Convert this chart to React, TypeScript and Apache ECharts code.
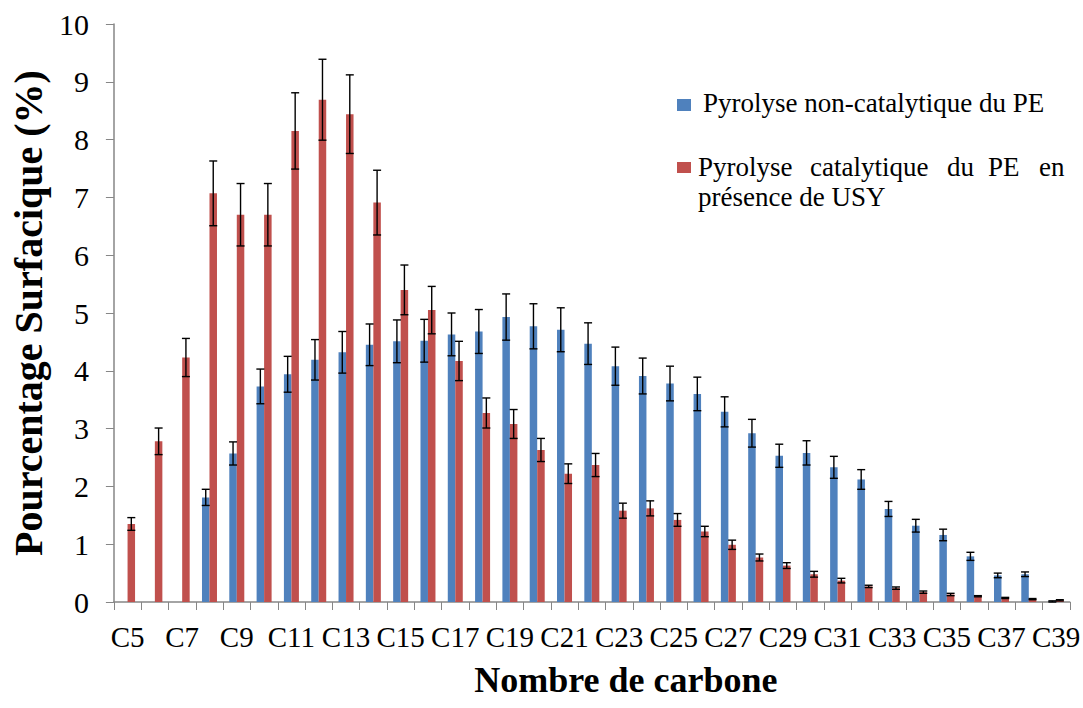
import React, { useEffect, useRef } from "react";
import * as echarts from "echarts";

const categories = [
  "C5", "C6", "C7", "C8", "C9", "C10", "C11", "C12", "C13", "C14", "C15", "C16",
  "C17", "C18", "C19", "C20", "C21", "C22", "C23", "C24", "C25", "C26", "C27", "C28",
  "C29", "C30", "C31", "C32", "C33", "C34", "C35", "C36", "C37", "C38", "C39",
];

const blueName = "Pyrolyse non-catalytique du PE";
const redName = "Pyrolyse catalytique du PE en présence de USY";

const blueValues = [
  null, null, null, 1.81, 2.57, 3.73, 3.94, 4.19, 4.32, 4.45, 4.51, 4.52,
  4.63, 4.68, 4.93, 4.77, 4.71, 4.47, 4.08, 3.91, 3.78, 3.6, 3.29, 2.92,
  2.53, 2.58, 2.33, 2.12, 1.61, 1.32, 1.16, 0.79, 0.46, 0.48, 0.01,
];
const blueErrors = [
  0, 0, 0, 0.14, 0.2, 0.3, 0.31, 0.35, 0.36, 0.36, 0.37, 0.37,
  0.37, 0.38, 0.4, 0.39, 0.38, 0.36, 0.33, 0.31, 0.3, 0.29, 0.26, 0.24,
  0.2, 0.21, 0.19, 0.17, 0.13, 0.11, 0.1, 0.07, 0.04, 0.04, 0.01,
];
const redValues = [
  1.35, 2.78, 4.23, 7.07, 6.7, 6.7, 8.15, 8.69, 8.44, 6.91, 5.4, 5.05,
  4.17, 3.27, 3.08, 2.63, 2.22, 2.37, 1.58, 1.62, 1.42, 1.22, 0.99, 0.77,
  0.63, 0.48, 0.37, 0.27, 0.24, 0.17, 0.13, 0.1, 0.07, 0.05, 0.03,
];
const redErrors = [
  0.11, 0.23, 0.33, 0.56, 0.54, 0.54, 0.66, 0.7, 0.68, 0.56, 0.43, 0.41,
  0.34, 0.26, 0.25, 0.2, 0.17, 0.2, 0.13, 0.13, 0.11, 0.09, 0.08, 0.06,
  0.05, 0.05, 0.04, 0.02, 0.02, 0.02, 0.02, 0.01, 0.01, 0.01, 0.01,
];
const yTicks = [0, 10, 1]; // min, max, interval

const FONT = "Liberation Serif";
const BLUE = "#4F81BD";
const RED = "#C0504D";
const BAR_W = 7.5;

function errorData(values: (number | null)[], errs: number[]) {
  const out: number[][] = [];
  values.forEach((v, i) => {
    if (v !== null && v !== undefined) out.push([i, v, errs[i]]);
  });
  return out;
}

function makeErrorSeries(values: (number | null)[], errs: number[], offset: number) {
  return {
    type: "custom",
    z: 10,
    silent: true,
    data: errorData(values, errs),
    encode: { x: 0, y: 1 },
    renderItem: (params: any, api: any) => {
      const i = api.value(0);
      const v = api.value(1);
      const e = api.value(2);
      const top = api.coord([i, v + e]);
      const bot = api.coord([i, Math.max(0, v - e)]);
      const x = top[0] + offset;
      const hw = 4;
      const style = { stroke: "#000", lineWidth: 1.4 };
      return {
        type: "group",
        children: [
          { type: "line", shape: { x1: x, y1: top[1], x2: x, y2: bot[1] }, style },
          { type: "line", shape: { x1: x - hw, y1: top[1], x2: x + hw, y2: top[1] }, style },
          { type: "line", shape: { x1: x - hw, y1: bot[1], x2: x + hw, y2: bot[1] }, style },
        ],
      };
    },
  };
}

const legendTitle = (text: string, x: number, y: number) => ({
  text,
  left: x,
  top: y,
  padding: 0,
  textStyle: { fontSize: 27, fontFamily: FONT, fontWeight: "normal", color: "#000" },
});

export default function App() {
  const ref = useRef<HTMLDivElement>(null);
  useEffect(() => {
    if (!ref.current) return;
    const chart = echarts.init(ref.current, null, { renderer: "svg" });
    const line1Words = [
      { t: "Pyrolyse", x: 698 },
      { t: "catalytique", x: 810 },
      { t: "du", x: 947 },
      { t: "PE", x: 988 },
      { t: "en", x: 1039 },
    ];
    chart.setOption({
      animation: false,
      backgroundColor: "#fff",
      title: [
        legendTitle(blueName, 703, 89),
        ...line1Words.map((w) => legendTitle(w.t, w.x, 153)),
        legendTitle("présence de USY", 698, 183),
      ],
      grid: { left: 96, right: 12, top: 24, bottom: 106, containLabel: false },
      xAxis: {
        type: "category",
        data: categories,
        boundaryGap: true,
        axisLine: { show: true, lineStyle: { color: "#868686", width: 1.5 } },
        axisTick: { show: true, interval: 0, length: 8, lineStyle: { color: "#868686" } },
        axisLabel: { interval: 1, fontSize: 29, fontFamily: FONT, color: "#000", margin: 20 },
        name: "Nombre de carbone",
        nameLocation: "middle",
        nameGap: 60,
        nameTextStyle: {
          fontSize: 36,
          fontWeight: "bold",
          fontFamily: FONT,
          color: "#000",
          padding: [0, 0, 0, 68],
        },
      },
      yAxis: {
        type: "value",
        min: yTicks[0],
        max: yTicks[1],
        interval: yTicks[2],
        splitLine: { show: false },
        axisLine: { show: true, lineStyle: { color: "#868686", width: 1.5 } },
        axisTick: { show: true, length: 8, lineStyle: { color: "#868686" } },
        axisLabel: { fontSize: 30, fontFamily: FONT, color: "#000", margin: 25 },
        name: "Pourcentage Surfacique (%)",
        nameLocation: "middle",
        nameGap: 46,
        nameTextStyle: { fontSize: 40, fontWeight: "bold", fontFamily: FONT, color: "#000" },
      },
      series: [
        {
          name: blueName,
          type: "bar",
          data: blueValues,
          barWidth: BAR_W,
          barGap: "0%",
          itemStyle: { color: BLUE },
        },
        {
          name: redName,
          type: "bar",
          data: redValues,
          barWidth: BAR_W,
          barGap: "0%",
          itemStyle: { color: RED },
        },
        makeErrorSeries(blueValues, blueErrors, -BAR_W / 2),
        makeErrorSeries(redValues, redErrors, BAR_W / 2),
      ],
      graphic: [
        { type: "rect", left: 677, top: 99, shape: { width: 14, height: 12 }, style: { fill: BLUE } },
        { type: "rect", left: 677, top: 162, shape: { width: 14, height: 11 }, style: { fill: RED } },
      ],
    });
    return () => chart.dispose();
  }, []);
  return (
    <div
      ref={ref}
      style={{ position: "fixed", left: 0, top: 0, width: 1083, height: 708, background: "#fff" }}
    />
  );
}
